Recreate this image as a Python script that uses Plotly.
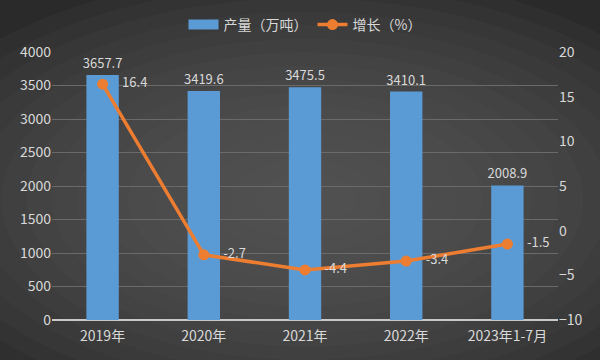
import plotly.graph_objects as go

categories = ["2019年", "2020年", "2021年", "2022年", "2023年1-7月"]
output = [3657.7, 3419.6, 3475.5, 3410.1, 2008.9]
growth = [16.4, -2.7, -4.4, -3.4, -1.5]
left_ticks = [0, 500, 1000, 1500, 2000, 2500, 3000, 3500, 4000]
right_ticks = [-10, -5, 0, 5, 10, 15, 20]

txt = "#d9d9d9"
font = "Noto Sans CJK SC, Microsoft YaHei, sans-serif"
blue = "#5b9bd5"
orange = "#ed7d31"
pad = "\u00a0\u00a0\u00a0\u00a0"

fig = go.Figure()
fig.add_trace(go.Bar(
    x=categories, y=output, name="产量（万吨）", showlegend=False,
    marker=dict(color=blue, line=dict(width=0)),
    text=[f"{v:.1f}" for v in output], textposition="outside",
    constraintext="none",
    textfont=dict(color=txt, size=13), cliponaxis=False,
))
# legend-only entry giving a wide rectangular swatch
fig.add_trace(go.Scatter(
    x=[None], y=[None], name="产量（万吨）", mode="lines",
    line=dict(color=blue, width=10),
))
fig.add_trace(go.Scatter(
    x=categories, y=growth, name="增长（%）", yaxis="y2",
    mode="lines+markers+text",
    line=dict(color=orange, width=3.5),
    marker=dict(color=orange, size=11),
    text=[f"{pad}{v:.1f}" for v in growth], textposition="middle right",
    textfont=dict(color=txt, size=13), cliponaxis=False,
))

# radial vignette imitation
shapes = []
steps = 16
for i in range(steps):
    f = i / steps
    rx = 0.80 * (1 - f) + 0.05
    ry = 0.80 * (1 - f) + 0.05
    shapes.append(dict(type="circle", xref="paper", yref="paper", layer="below",
                       x0=0.5 - rx, x1=0.5 + rx, y0=0.45 - ry, y1=0.45 + ry,
                       fillcolor="rgba(95,95,95,0.11)", line=dict(width=0)))

fig.update_layout(
    width=600, height=360,
    margin=dict(l=52, r=42, t=52, b=40, autoexpand=False),
    paper_bgcolor="#2a2a2a", plot_bgcolor="rgba(0,0,0,0)",
    font=dict(family=font, color=txt, size=14),
    bargap=0.68,
    shapes=shapes,
    showlegend=True,
    legend=dict(orientation="h", x=0.5, xanchor="center",
                yref="container", y=1 - 25 / 360, yanchor="middle",
                font=dict(size=14, color=txt), bgcolor="rgba(0,0,0,0)",
                itemwidth=30),
    xaxis=dict(type="category", showgrid=False, showline=False, ticks="",
               ticklabelstandoff=6, tickfont=dict(size=14, color=txt)),
    yaxis=dict(range=[0, 4000], tickvals=left_ticks, showgrid=True,
               gridcolor="#6a6a6a", gridwidth=1, zeroline=True,
               zerolinecolor="#c8c8c8", zerolinewidth=1.5,
               tickfont=dict(size=14, color=txt), ticks=""),
    yaxis2=dict(range=[-10, 20], tickvals=right_ticks, overlaying="y", side="right",
                showgrid=False, zeroline=False, tickfont=dict(size=14, color=txt), ticks=""),
)
fig.write_html("out.html")
